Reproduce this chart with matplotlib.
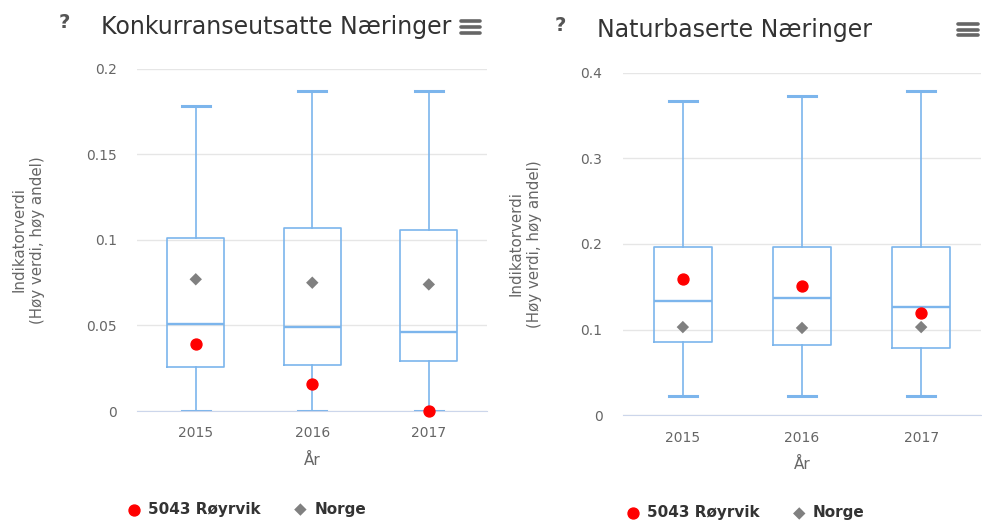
import numpy as np
import matplotlib.pyplot as plt
from matplotlib.lines import Line2D
from matplotlib.ticker import FuncFormatter

years = ['2015', '2016', '2017']

# Konkurranseutsatte Næringer
konk_low = [0.0, 0.0, 0.0]
konk_q1 = [0.026, 0.027, 0.029]
konk_med = [0.051, 0.049, 0.046]
konk_q3 = [0.101, 0.107, 0.106]
konk_high = [0.178, 0.187, 0.187]
konk_royrvik = [0.039, 0.016, 0.0]
konk_norge = [0.077, 0.075, 0.074]

# Naturbaserte Næringer
natur_low = [0.023, 0.023, 0.022]
natur_q1 = [0.086, 0.082, 0.079]
natur_med = [0.134, 0.137, 0.127]
natur_q3 = [0.196, 0.197, 0.196]
natur_high = [0.367, 0.373, 0.379]
natur_royrvik = [0.159, 0.151, 0.119]
natur_norge = [0.103, 0.102, 0.103]

konk_ticks = [0, 0.05, 0.1, 0.15, 0.2]
natur_ticks = [0, 0.1, 0.2, 0.3, 0.4]

BLUE = '#7cb5ec'
GRID = '#e6e6e6'
TXT = '#666666'

fig = plt.figure(figsize=(9.82, 5.2), dpi=100)


def draw(rect, title, low, q1, med, q3, high, royrvik, norge, ticks,
         title_x, q_x, menu_x, top_y, ylab_x, legend_xy):
    ax = fig.add_axes(rect)
    stats = []
    for i in range(len(years)):
        stats.append({'whislo': low[i], 'q1': q1[i], 'med': med[i],
                      'q3': q3[i], 'whishi': high[i], 'fliers': []})
    pos = np.arange(len(years))
    ax.bxp(stats, positions=pos, widths=0.49, showfliers=False,
           boxprops=dict(color=BLUE, linewidth=1.2),
           whiskerprops=dict(color=BLUE, linewidth=1.2),
           capprops=dict(color=BLUE, linewidth=2.2),
           medianprops=dict(color=BLUE, linewidth=1.7),
           capwidths=0.24, zorder=2)
    r = ax.scatter(pos, royrvik, s=62, color='#ff0000', marker='o',
                   zorder=4, clip_on=False, label='5043 Røyrvik')
    n = ax.scatter(pos, norge, s=40, color='#808080', marker='D',
                   edgecolors='none', zorder=3, clip_on=False, label='Norge')

    ax.set_xlim(-0.5, 2.5)
    ax.set_ylim(ticks[0], ticks[-1])
    ax.set_yticks(ticks)
    ax.yaxis.set_major_formatter(FuncFormatter(lambda v, p: '{:g}'.format(v)))
    ax.set_xticks(pos)
    ax.set_xticklabels(years)
    ax.grid(axis='y', color=GRID, linewidth=1)
    ax.set_axisbelow(True)
    for s in ['top', 'right', 'left']:
        ax.spines[s].set_visible(False)
    ax.spines['bottom'].set_color('#ccd6eb')
    ax.tick_params(axis='y', length=0, pad=15, labelsize=10, labelcolor=TXT)
    ax.tick_params(axis='x', length=0, pad=11, labelsize=10, labelcolor=TXT)
    ax.set_xlabel('År', fontsize=11, color=TXT, labelpad=9)

    fig.text(title_x, top_y, title, fontsize=17, color='#333333',
             ha='left', va='center')
    fig.text(q_x, top_y + 0.008, '?', fontsize=14, color='#555555',
             fontweight='bold', ha='center', va='center')
    # menu icon
    for k in range(3):
        yy = top_y + 0.011 - k * 0.011
        fig.add_artist(Line2D([menu_x - 0.010, menu_x + 0.010], [yy, yy],
                              transform=fig.transFigure, color='#666666',
                              linewidth=2.6, solid_capstyle='round'))
    fig.text(ylab_x, rect[1] + rect[3] / 2,
             'Indikatorverdi\n(Høy verdi, høy andel)', rotation=90,
             fontsize=10.8, color=TXT, ha='center', va='center',
             multialignment='center', linespacing=1.3)
    ax.legend(handles=[r, n], loc='center', bbox_to_anchor=legend_xy,
              bbox_transform=fig.transFigure, ncol=2, frameon=False,
              prop={'weight': 'bold', 'size': 11}, labelcolor='#333333',
              handletextpad=0.3, columnspacing=2.0, handlelength=1.2)
    return ax


draw([0.140, 0.2096, 0.356, 0.658], 'Konkurranseutsatte Næringer',
     konk_low, konk_q1, konk_med, konk_q3, konk_high,
     konk_royrvik, konk_norge, konk_ticks,
     title_x=0.103, q_x=0.066, menu_x=0.479, top_y=0.948,
     ylab_x=0.029, legend_xy=(0.250, 0.021))

draw([0.6347, 0.2013, 0.364, 0.659], 'Naturbaserte Næringer',
     natur_low, natur_q1, natur_med, natur_q3, natur_high,
     natur_royrvik, natur_norge, natur_ticks,
     title_x=0.608, q_x=0.571, menu_x=0.986, top_y=0.943,
     ylab_x=0.535, legend_xy=(0.758, 0.0135))

plt.savefig('out.png', dpi=100)
